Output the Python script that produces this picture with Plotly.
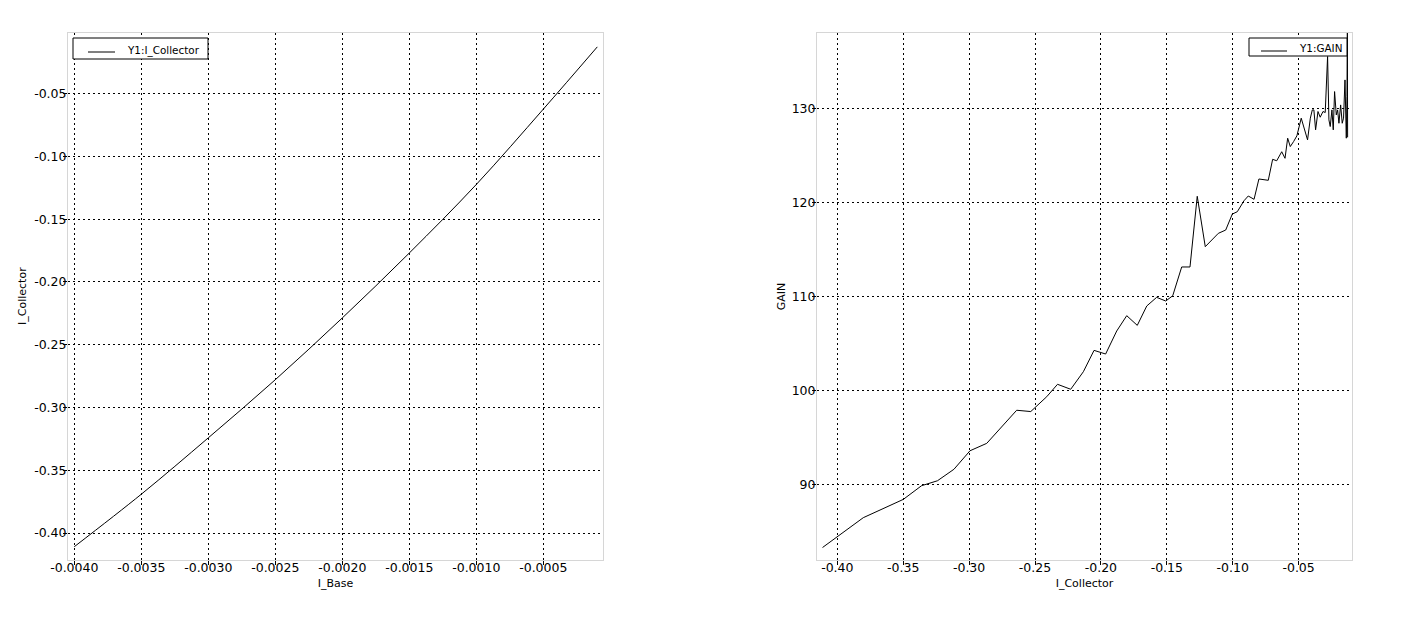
import plotly.graph_objects as go

# Left chart: I_Collector vs I_Base
i_base = [-0.0040, -0.0035, -0.0030, -0.0025, -0.0020, -0.0015, -0.0010, -0.0005, -0.000097]
i_collector = [-0.4109, -0.3691, -0.3242, -0.2779, -0.2287, -0.1770, -0.1224, -0.0624, -0.0128]

# Right chart: GAIN vs I_Collector
gain_ic = [-0.4112, -0.3803, -0.3499, -0.3361, -0.3240, -0.3115, -0.2993, -0.2866, -0.2639, -0.2532,
           -0.2411, -0.2329, -0.2229, -0.2133, -0.2052, -0.1964, -0.1880, -0.1804, -0.1724, -0.1652,
           -0.1577, -0.1508, -0.1455, -0.1387, -0.1324, -0.1269, -0.1208, -0.1109, -0.1053, -0.1003,
           -0.0965, -0.0914, -0.0882, -0.0838, -0.0801, -0.0730, -0.0697, -0.0666, -0.0628, -0.0603,
           -0.0583, -0.0563, -0.0538, -0.0513, -0.0480, -0.0457, -0.0432, -0.0411, -0.0396, -0.0384,
           -0.0371, -0.0353, -0.0336, -0.0315, -0.0298, -0.0280, -0.0270, -0.0260, -0.0247, -0.0237,
           -0.0227, -0.0214, -0.0204, -0.0194, -0.0181, -0.0169, -0.0159, -0.0148, -0.0138, -0.0133,
           -0.0130, -0.0128]
gain = [83.27, 86.44, 88.39, 89.84, 90.37, 91.59, 93.56, 94.35, 97.87, 97.73,
        99.31, 100.63, 100.10, 101.97, 104.24, 103.85, 106.30, 107.93, 106.90, 108.96,
        109.88, 109.49, 110.05, 113.11, 113.11, 120.63, 115.27, 116.69, 117.04, 118.74,
        118.99, 120.16, 120.66, 120.31, 122.47, 122.33, 124.56, 124.41, 125.37, 124.67,
        126.81, 125.92, 126.45, 127.06, 128.94, 127.70, 126.63, 128.94, 129.82, 129.82,
        127.70, 129.65, 129.04, 129.65, 129.54, 135.50, 128.76, 128.05, 129.82, 127.70,
        131.77, 129.29, 129.82, 128.40, 130.35, 128.40, 128.94, 133.01, 126.81, 131.24,
        138.0, 126.9]

left_xticks = [-0.0040, -0.0035, -0.0030, -0.0025, -0.0020, -0.0015, -0.0010, -0.0005]
left_yticks = [-0.40, -0.35, -0.30, -0.25, -0.20, -0.15, -0.10, -0.05]
right_xticks = [-0.40, -0.35, -0.30, -0.25, -0.20, -0.15, -0.10, -0.05]
right_yticks = [90, 100, 110, 120, 130]
legend_names = ["Y1:I_Collector", "Y1:GAIN"]

OFF = 8  # page body margin
W, H = 1404 - 2 * OFF, 620 - 2 * OFF
FONT = "DejaVu Sans"


def px(x):
    return (x - OFF) / W


def py(y):
    return 1 - (y - OFF) / H


fig = go.Figure()
fig.add_trace(go.Scatter(x=i_base, y=i_collector, mode="lines", name=legend_names[0],
                         line=dict(color="black", width=1, shape="spline"),
                         xaxis="x", yaxis="y", showlegend=False))
fig.add_trace(go.Scatter(x=gain_ic, y=gain, mode="lines", name=legend_names[1],
                         line=dict(color="black", width=1),
                         xaxis="x2", yaxis="y2", showlegend=False))


def ax(domain, rng, ticks, fmt, title, anchor, standoff, labelshift):
    return dict(domain=domain, range=rng, tickvals=ticks,
                ticktext=[format(t, fmt) for t in ticks],
                showgrid=True, gridcolor="black", griddash="2px,3px", gridwidth=1,
                zeroline=False, showline=True, linecolor="#d6d6d6", linewidth=1, mirror=True,
                ticks="outside", ticklen=4, tickcolor="black", tickwidth=1,
                ticklabelstandoff=labelshift,
                tickfont=dict(family=FONT, size=12.5, color="black"),
                title=dict(text=title, font=dict(family=FONT, size=11, color="black"), standoff=standoff),
                anchor=anchor, automargin=False)


ydom = [py(560), py(33)]
fig.update_layout(
    width=W, height=H,
    margin=dict(l=0, r=0, t=0, b=0),
    paper_bgcolor="white", plot_bgcolor="white",
    font=dict(family=FONT, color="black"),
    showlegend=False,
    xaxis=ax([px(68), px(603)], [-0.004047, -0.0000545], left_xticks, ".4f", "I_Base", "y", 5, -8),
    yaxis=ax(ydom, [-0.4215, -0.00175], left_yticks, ".2f", "", "x", 0, -6),
    xaxis2=ax([px(817), px(1352)], [-0.4154, -0.00948], right_xticks, ".2f", "I_Collector", "y2", 5, -8),
    yaxis2=ax(ydom, [81.94, 138.0], right_yticks, "d", "GAIN", "x2", 3, -6),
)

# Left y-axis title placed explicitly (Plotly clamps it at the page edge otherwise)
fig.add_annotation(xref="paper", yref="paper", x=px(22), y=py(296), text="I_Collector",
                   textangle=-90, showarrow=False, xanchor="center", yanchor="middle",
                   font=dict(family=FONT, size=11, color="black"))

# Legend boxes (drawn above the data, like the original framed legends)
legend_boxes = [
    dict(box=(73, 38, 208, 59), line=(88, 115, 52), text_x=125, text_y=50, name=legend_names[0]),
    dict(box=(1249, 38, 1347, 56), line=(1261, 1287, 51), text_x=1297, text_y=48.5, name=legend_names[1]),
]
for lb in legend_boxes:
    x0, y0, x1, y1 = lb["box"]
    fig.add_shape(type="rect", xref="paper", yref="paper", x0=px(x0), x1=px(x1), y0=py(y1), y1=py(y0),
                  line=dict(color="black", width=1), fillcolor="white", layer="above")
    lx0, lx1, ly = lb["line"]
    fig.add_shape(type="line", xref="paper", yref="paper", x0=px(lx0), x1=px(lx1), y0=py(ly), y1=py(ly),
                  line=dict(color="black", width=1), layer="above")
    fig.add_annotation(xref="paper", yref="paper", x=px(lb["text_x"]), y=py(lb["text_y"]),
                       xanchor="left", yanchor="middle", text=lb["name"], showarrow=False,
                       font=dict(family=FONT, size=10.4, color="black"))

fig.write_html("out.html")
